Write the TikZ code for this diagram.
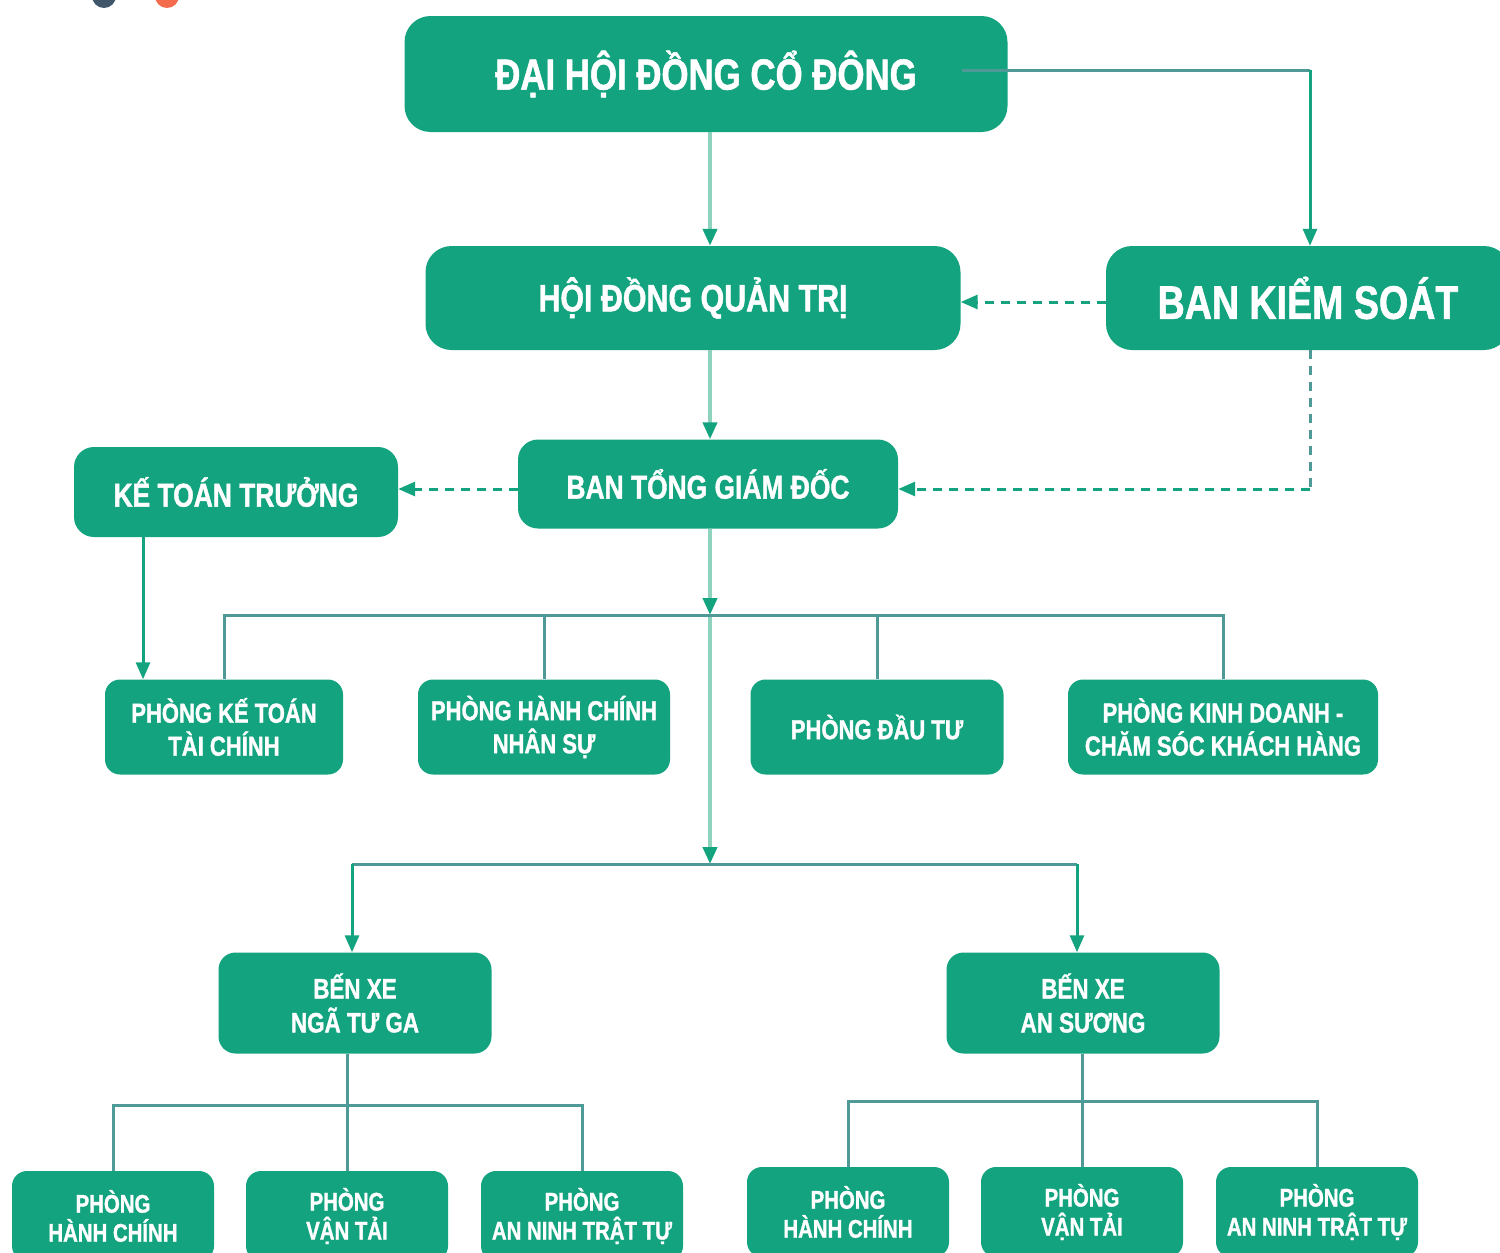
\documentclass[tikz,border=0pt]{standalone}
\usepackage{fontspec}
\setmainfont{Liberation Sans}[FakeStretch=0.8, BoldFeatures={FakeBold=1.2}]
\usetikzlibrary{arrows.meta}

\definecolor{boxgreen}{HTML}{13A37F}
\definecolor{linegrey}{HTML}{4F9A96}
\definecolor{trunkmint}{HTML}{8FD3BF}
\definecolor{dotblue}{HTML}{3F566B}
\definecolor{dotorange}{HTML}{F46B4E}

\tikzset{
  box/.style={fill=boxgreen, text=white, align=center, inner sep=0pt},
  topbox/.style={box, rounded corners=26pt},
  deptbox/.style={box, rounded corners=15pt, minimum height=95pt,
    font=\fontsize{27.5}{33}\selectfont\bfseries},
  stationbox/.style={box, rounded corners=17pt, minimum width=273pt, minimum height=101pt,
    font=\fontsize{28}{34}\selectfont\bfseries},
  unitbox/.style={box, rounded corners=15pt, minimum width=202pt, minimum height=90pt,
    font=\fontsize{25.5}{29}\selectfont\bfseries},
  tree/.style={linegrey, line width=3pt},
  trunk/.style={trunkmint, line width=4pt},
  feed/.style={boxgreen, line width=3pt},
  tip/.style={-{Triangle[width=14pt,length=17pt,color=boxgreen]}},
  check/.style={dash pattern=on 9pt off 7pt}
}

\begin{document}
\begin{tikzpicture}[x=1pt,y=-1pt]
  \useasboundingbox (0,0) rectangle (1500,1253);
  \clip (0,0) rectangle (1500,1253);
  \fill[dotblue] (104,-4) circle (12pt);
  \fill[dotorange] (167,-4) circle (12pt);

  % boxes
  \node[topbox, minimum width=603pt, minimum height=116pt,
    font=\fontsize{43.5}{50}\selectfont\bfseries] (dhdcd) at (706,74) {ĐẠI HỘI ĐỒNG CỔ ĐÔNG};
  \node[topbox, minimum width=535pt, minimum height=104pt,
    font=\fontsize{38}{44}\selectfont\bfseries] (hdqt) at (693,298) {HỘI ĐỒNG QUẢN TRỊ};
  \node[topbox, minimum width=404pt, minimum height=104pt,
    font=\fontsize{47}{52}\selectfont\bfseries] (bks) at (1308,298) {BAN KIỂM SOÁT};
  \node[box, rounded corners=20pt, minimum width=380pt, minimum height=89pt,
    font=\fontsize{33}{40}\selectfont\bfseries] (btgd) at (708,484) {BAN TỔNG GIÁM ĐỐC};
  \node[box, rounded corners=20pt, minimum width=324pt, minimum height=90pt,
    font=\fontsize{33}{40}\selectfont\bfseries] (ktt) at (236,492) {KẾ TOÁN TRƯỞNG};

  \node[deptbox, minimum width=238pt] (pkt) at (224,727) {PHÒNG KẾ TOÁN\\TÀI CHÍNH};
  \node[deptbox, minimum width=252pt] (phc) at (544,727) {PHÒNG HÀNH CHÍNH\\NHÂN SỰ};
  \node[deptbox, minimum width=253pt] (pdt) at (877,727) {PHÒNG ĐẦU TƯ};
  \node[deptbox, minimum width=310pt] (pkd) at (1223,727) {PHÒNG KINH DOANH -\\CHĂM SÓC KHÁCH HÀNG};

  \node[stationbox] (bx1) at (355,1003) {BẾN XE\\NGÃ TƯ GA};
  \node[stationbox] (bx2) at (1083,1003) {BẾN XE\\AN SƯƠNG};

  \node[unitbox] (l1) at (113,1216) {PHÒNG\\HÀNH CHÍNH};
  \node[unitbox] (l2) at (347,1216) {PHÒNG\\VẬN TẢI};
  \node[unitbox] (l3) at (582,1216) {PHÒNG\\AN NINH TRẬT TỰ};
  \node[unitbox] (r1) at (848,1212) {PHÒNG\\HÀNH CHÍNH};
  \node[unitbox] (r2) at (1082,1212) {PHÒNG\\VẬN TẢI};
  \node[unitbox] (r3) at (1317,1212) {PHÒNG\\AN NINH TRẬT TỰ};

  % helper points
  \coordinate (spine) at (710,0);
  \coordinate (bus1) at (710,615);
  \coordinate (bus2) at (710,864);
  \coordinate (b2l) at (352,864);
  \coordinate (b2r) at (1077,864);
  \coordinate (bus3) at (347,1105);
  \coordinate (bus4) at (1082,1101);
  \coordinate (bksx) at (1310,0);
  \coordinate (audit) at (962,70);
  \coordinate (kline) at (0,489);
  \coordinate (qline) at (0,302);
  \coordinate (kttx) at (143,0);

  % main line
  \draw[trunk,tip] (dhdcd.south -| spine) -- (hdqt.north -| spine);
  \draw[trunk,tip] (hdqt.south -| spine) -- (btgd.north -| spine);
  \draw[trunk,tip] (btgd.south -| spine) -- (bus1);
  \draw[trunk,tip] (bus1) -- (bus2);

  % departments
  \draw[tree] (pkt.north) |- (bus1) -| (pkd.north);
  \draw[tree] (phc.north) -- (phc.north |- bus1);
  \draw[tree] (pdt.north) -- (pdt.north |- bus1);

  % stations
  \draw[tree] (b2l) -- (b2r);
  \draw[feed,tip] (b2l) -- (b2l |- bx1.north);
  \draw[feed,tip] (b2r) -- (b2r |- bx2.north);
  \draw[tree] (bx1.south -| l2) -- (l2.north);
  \draw[tree] (l1.north) |- (bus3) -| (l3.north);
  \draw[tree] (bx2.south -| r2) -- (r2.north);
  \draw[tree] (r1.north) |- (bus4) -| (r3.north);

  % control lines
  \draw[tree] (audit) -- (audit -| bksx);
  \draw[feed,tip] (audit -| bksx) -- (bks.north -| bksx);
  \draw[feed,check,tip] (bks.west |- qline) -- (hdqt.east |- qline);
  \draw[tree,check] (bks.south -| bksx) -- (bksx |- kline);
  \draw[feed,check,tip] (bksx |- kline) -- (btgd.east |- kline);
  \draw[feed,check,tip] (btgd.west |- kline) -- (ktt.east |- kline);
  \draw[feed,tip] (ktt.south -| kttx) -- (pkt.north -| kttx);
\end{tikzpicture}
\end{document}
